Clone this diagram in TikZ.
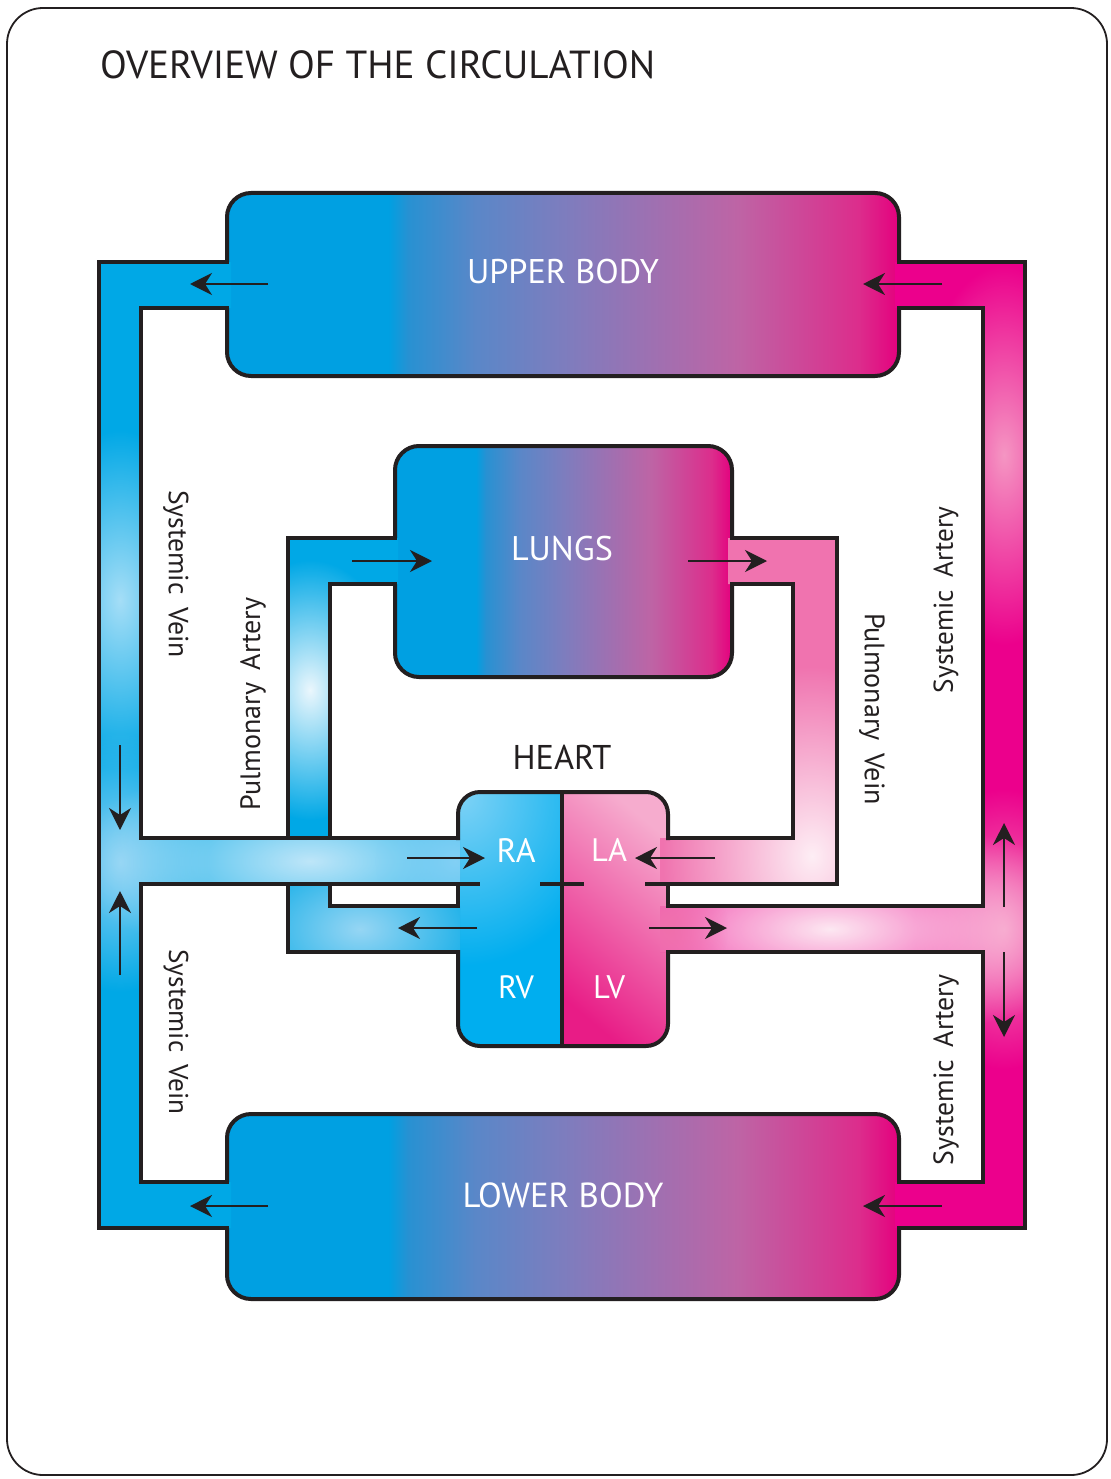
\documentclass[tikz,border=0pt]{standalone}
\usepackage{fontspec}
\setmainfont{PT Sans}
\usepackage{graphicx}
\usetikzlibrary{arrows.meta,fadings}

\definecolor{ink}{RGB}{35,31,32}
\definecolor{cpipe}{RGB}{0,168,230}
\definecolor{cmag}{RGB}{236,0,140}
\definecolor{cpv}{RGB}{240,115,175}
\definecolor{bA}{RGB}{0,160,226}
\definecolor{bB}{RGB}{40,145,210}
\definecolor{bBB}{RGB}{90,135,200}
\definecolor{bC}{RGB}{125,125,190}
\definecolor{bD}{RGB}{190,100,165}
\definecolor{bE}{RGB}{220,45,140}
\definecolor{bF}{RGB}{228,0,126}
% heart
\definecolor{hBlue}{RGB}{0,174,239}
\definecolor{hBlueLt}{RGB}{125,210,246}
\definecolor{hPinkTop}{RGB}{246,172,206}
\definecolor{hPinkMid}{RGB}{240,112,170}
\definecolor{hPinkBot}{RGB}{232,28,134}
% glow spots
\definecolor{gWhiteBlue}{RGB}{235,247,253}
\definecolor{gBlue1}{RGB}{150,214,244}
\definecolor{gBlue2}{RGB}{165,222,247}
\definecolor{gBlue3}{RGB}{140,210,244}
\definecolor{gBlue4}{RGB}{190,230,249}
\definecolor{gBlue5}{RGB}{130,208,245}
\definecolor{gWhitePink}{RGB}{254,238,245}
\definecolor{gPink1}{RGB}{245,150,195}
\definecolor{gPink2}{RGB}{244,130,185}
\definecolor{gPink3}{RGB}{253,232,242}
\definecolor{gPink4}{RGB}{240,112,172}

\pgfdeclarehorizontalshading{bodygrad}{100bp}{%
 color(0bp)=(bA); color(25bp)=(bA); color(37bp)=(bA); color(38.5bp)=(bB);
 color(43.5bp)=(bBB); color(50bp)=(bC); color(63bp)=(bD); color(72bp)=(bE);
 color(75bp)=(bF); color(100bp)=(bF)}

\tikzfading[name=glowfade, inner color=transparent!0, outer color=transparent!100]

\newcommand{\fitlabel}[2]{\resizebox{#1pt}{!}{\fontsize{30pt}{30pt}\selectfont #2}}

\tikzset{
  outline/.style={draw=ink, line width=4pt, line join=miter, line cap=rect},
  bodybox/.style={draw=ink, line width=4pt, rounded corners=24pt, shade, shading=bodygrad,
                  inner sep=0pt, outer sep=0pt},
  flow/.style={draw=ink, line width=2.1pt, -{Stealth[length=22pt,width=22pt,inset=7pt]}},
  glow/.style={fill=#1, path fading=glowfade},
  boxlabel/.style={text=white, inner sep=0pt},
  darklabel/.style={text=ink, inner sep=0pt},
}

\begin{document}
\begin{tikzpicture}[x=1pt, y=-1pt]
\useasboundingbox (0,0) rectangle (1110,1479);
% frame
\draw[ink, line width=1.8pt, rounded corners=36pt] (7,8) rectangle (1107,1475);

% organ boxes
\node[bodybox, minimum width=672pt, minimum height=183pt] (upper) at (563,284.5) {};
\node[bodybox, minimum width=672pt, minimum height=185pt] (lower) at (563,1206.5) {};
\node[bodybox, minimum width=337pt, minimum height=231pt] (lungs) at (563.5,561.5) {};

% heart fill
\begin{scope}
  \clip[rounded corners=22pt] (458,792) rectangle (668,1046);
  \fill[hBlue] (456,790) rectangle (562,1048);
  \path[glow=hBlueLt] (462,796) ellipse (150pt and 170pt);
  \shade[top color=hPinkTop, middle color=hPinkMid, bottom color=hPinkBot, shading angle=-40]
     (562,790) rectangle (670,1048);
\end{scope}

% pulmonary artery fill
\begin{scope}
  \clip (288,538) rectangle (398,584) (288,538) rectangle (330,952) (288,906) rectangle (460,952);
  \fill[cpipe] (280,530) rectangle (470,960);
  \path[glow=gWhiteBlue] (310,690) ellipse (90pt and 130pt);
  \path[glow=gBlue1] (360,929) ellipse (140pt and 90pt);
\end{scope}

% left systemic vein fill
\begin{scope}
  \clip (99,262) rectangle (231,308) (99,262) rectangle (141,1228) (99,1182) rectangle (231,1228)
        (139,838) rectangle (460,884);
  \fill[cpipe] (90,250) rectangle (470,1240);
  \path[glow=gBlue2] (120,600) ellipse (90pt and 170pt);
  \path[glow=gBlue3] (120,862) ellipse (90pt and 130pt);
  \path[glow=gBlue4] (310,861) ellipse (250pt and 100pt);
  \path[glow=gBlue5] (455,861) ellipse (80pt and 80pt);
\end{scope}

% pulmonary vein fill
\begin{scope}
  \clip (728,538) rectangle (837,584) (793,538) rectangle (837,884) (660,838) rectangle (837,884);
  \fill[cpv] (650,530) rectangle (845,890);
  \path[glow=gWhitePink] (812,856) ellipse (150pt and 190pt);
\end{scope}

% right systemic artery fill
\begin{scope}
  \clip (895,262) rectangle (1025,308) (983,262) rectangle (1025,1228) (895,1182) rectangle (1025,1228)
        (660,906) rectangle (985,952);
  \fill[cmag] (650,250) rectangle (1035,1240);
  \path[glow=gPink1] (1004,455) ellipse (90pt and 190pt);
  \path[glow=gPink2] (1004,929) ellipse (90pt and 140pt);
  \path[glow=gPink3] (830,929) ellipse (300pt and 110pt);
  \path[glow=gPink4] (668,929) ellipse (60pt and 70pt);
\end{scope}

% heart outline
\draw[outline, rounded corners=22pt] (458,838) -- (458,792) -- (668,792) -- (668,838);
\draw[outline, rounded corners=22pt] (458,952) -- (458,1046) -- (668,1046) -- (668,952);
\draw[outline] (562,792) -- (562,1046);
\draw[outline] (542,884) -- (582,884);

% pulmonary artery outline
\draw[outline] (395,538) -- (288,538) -- (288,838);
\draw[outline] (395,584) -- (330,584) -- (330,838);
\draw[outline] (288,884) -- (288,952) -- (458,952);
\draw[outline] (330,884) -- (330,906) -- (458,906) -- (458,884);

% systemic vein outline
\draw[outline] (227,262) -- (99,262) -- (99,1228) -- (227,1228);
\draw[outline] (227,308) -- (141,308) -- (141,838) -- (458,838);
\draw[outline] (478,884) -- (141,884) -- (141,1182) -- (227,1182);

% pulmonary vein outline
\draw[outline] (732,538) -- (837,538) -- (837,884) -- (647,884);
\draw[outline] (732,584) -- (793,584) -- (793,838) -- (668,838);

% systemic artery outline
\draw[outline] (899,262) -- (1025,262) -- (1025,1228) -- (899,1228);
\draw[outline] (899,308) -- (983,308) -- (983,906) -- (668,906) -- (668,884);
\draw[outline] (668,952) -- (983,952) -- (983,1182) -- (899,1182);

% flow arrows
\coordinate (ubls) at (268,284);  \coordinate (uble) at (190,284);
\coordinate (ubrs) at (942,284);  \coordinate (ubre) at (863,284);
\coordinate (lbls) at (268,1206); \coordinate (lble) at (190,1206);
\coordinate (lbrs) at (942,1206); \coordinate (lbre) at (863,1206);
\coordinate (luis) at (352,561);  \coordinate (luie) at (432,561);
\coordinate (luos) at (688,561);  \coordinate (luoe) at (767,561);
\coordinate (ras) at (407,858);   \coordinate (rae) at (485,858);
\coordinate (las) at (715,858);   \coordinate (lae) at (635,858);
\coordinate (rvs) at (477,928);   \coordinate (rve) at (398,928);
\coordinate (lvs) at (649,928);   \coordinate (lve) at (727,928);
\coordinate (svds) at (120,745);  \coordinate (svde) at (120,830);
\coordinate (svus) at (120,975);  \coordinate (svue) at (120,891);
\coordinate (saus) at (1004,907); \coordinate (saue) at (1004,823);
\coordinate (sads) at (1004,952); \coordinate (sade) at (1004,1037);
\draw[flow] (ubls) -- (uble);
\draw[flow] (ubrs) -- (ubre);
\draw[flow] (lbls) -- (lble);
\draw[flow] (lbrs) -- (lbre);
\draw[flow] (luis) -- (luie);
\draw[flow] (luos) -- (luoe);
\draw[flow] (ras) -- (rae);
\draw[flow] (las) -- (lae);
\draw[flow] (rvs) -- (rve);
\draw[flow] (lvs) -- (lve);
\draw[flow] (svds) -- (svde);
\draw[flow] (svus) -- (svue);
\draw[flow] (saus) -- (saue);
\draw[flow] (sads) -- (sade);

% labels
\node[darklabel, anchor=south west] (title) at (100,79) {\fitlabel{555}{OVERVIEW OF THE CIRCULATION}};
\node[boxlabel] (upperlbl) at (563,272) {\fitlabel{192}{UPPER BODY}};
\node[boxlabel] (lowerlbl) at (563,1195) {\fitlabel{201}{LOWER BODY}};
\node[boxlabel] (lungslbl) at (562,549) {\fitlabel{102}{LUNGS}};
\node[darklabel] (heartlbl) at (562,757) {\fitlabel{99}{HEART}};
\node[boxlabel] (ralbl) at (516,850) {\fitlabel{39}{RA}};
\node[boxlabel] (lalbl) at (609,850) {\fitlabel{36}{LA}};
\node[boxlabel] (rvlbl) at (516,987) {\fitlabel{36}{RV}};
\node[boxlabel] (lvlbl) at (609,987) {\fitlabel{32}{LV}};
\node[darklabel, rotate=-90] (sv1) at (176,574) {\fitlabel{168}{Systemic\hspace{0.45em}Vein}};
\node[darklabel, rotate=-90] (sv2) at (176,1032) {\fitlabel{165}{Systemic\hspace{0.45em}Vein}};
\node[darklabel, rotate=90] (pa) at (253,704) {\fitlabel{213}{Pulmonary\hspace{0.45em}Artery}};
\node[darklabel, rotate=-90] (pv) at (872,709) {\fitlabel{192}{Pulmonary\hspace{0.45em}Vein}};
\node[darklabel, rotate=90] (sa1) at (946,600) {\fitlabel{186}{Systemic\hspace{0.45em}Artery}};
\node[darklabel, rotate=90] (sa2) at (946,1070) {\fitlabel{190}{Systemic\hspace{0.45em}Artery}};
\end{tikzpicture}
\end{document}
